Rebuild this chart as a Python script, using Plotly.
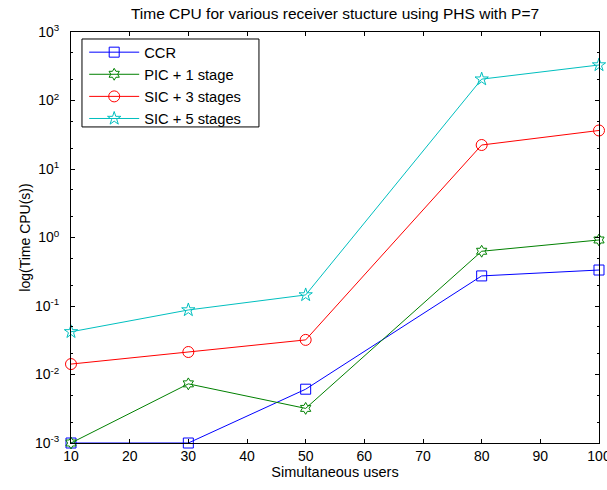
import plotly.graph_objects as go

users = [10, 30, 50, 80, 100]
ccr = [0.001, 0.001, 0.0061, 0.275, 0.335]
pic1 = [0.001, 0.0073, 0.0032, 0.63, 0.92]
sic3 = [0.0142, 0.0213, 0.032, 22.4, 36.5]
sic5 = [0.042, 0.0875, 0.145, 205, 330]

x_ticks = [10, 20, 30, 40, 50, 60, 70, 80, 90, 100]
y_ticks = [1e-3, 1e-2, 1e-1, 1e0, 1e1, 1e2, 1e3]
y_ticktext = ["10<sup>-3</sup>", "10<sup>-2</sup>", "10<sup>-1</sup>", "10<sup>0</sup>",
              "10<sup>1</sup>", "10<sup>2</sup>", "10<sup>3</sup>"]

series = [
    ("CCR", ccr, "#0000FF", "square-open", 10),
    ("PIC + 1 stage", pic1, "#008000", "hexagram-open", 9),
    ("SIC + 3 stages", sic3, "#FF0000", "circle-open", 11),
    ("SIC + 5 stages", sic5, "#00BFBF", "star-open", 10),
]

fig = go.Figure()
for name, vals, col, sym, sz in series:
    fig.add_trace(go.Scatter(
        x=users, y=vals, name=name, mode="lines+markers",
        line=dict(color=col, width=1),
        marker=dict(symbol=sym, size=sz, color=col, line=dict(color=col, width=1)),
        cliponaxis=False,
    ))

# legend frame
fig.add_shape(type="rect", xref="paper", yref="paper",
              x0=0.0208, x1=0.356, y0=0.769, y1=0.983,
              line=dict(color="black", width=1), fillcolor="white", layer="above")

font = dict(family="Liberation Sans, Arial, sans-serif", color="black")
fig.update_layout(
    width=607, height=490,
    margin=dict(l=71, r=8, t=32, b=47, autoexpand=False),
    paper_bgcolor="white", plot_bgcolor="white",
    font=dict(size=13, **font),
    title=dict(text="Time CPU for various receiver stucture using PHS with P=7",
               x=0.5, xref="paper", y=0.973, yref="container", yanchor="middle",
               font=dict(size=15.5, **font)),
    showlegend=True,
    legend=dict(x=0.025, y=0.99, xanchor="left", yanchor="top",
                borderwidth=0, bgcolor="rgba(0,0,0,0)",
                font=dict(size=14.7, **font), tracegroupgap=0, itemwidth=50),
    xaxis=dict(range=[10, 100.001], tickvals=x_ticks, automargin=False,
               ticks="inside", ticklen=4, tickcolor="black", showline=True,
               linecolor="black", linewidth=1, mirror="allticks", showgrid=False,
               zeroline=False, tickfont=dict(size=14), ticklabeloverflow="allow",
               title=dict(text="Simultaneous users", font=dict(size=14.5), standoff=4)),
    yaxis=dict(type="log", range=[-3, 3], tickvals=y_ticks, ticktext=y_ticktext,
               automargin=False, ticklabelstandoff=8,
               ticks="inside", ticklen=4, tickcolor="black", showline=True,
               linecolor="black", linewidth=1, mirror="allticks", showgrid=False,
               zeroline=False, tickfont=dict(size=14),
               minor=dict(ticks="inside", ticklen=2, tickcolor="black", showgrid=False),
               title=dict(text="log(Time CPU(s))", font=dict(size=14), standoff=1)),
)

fig.write_html("out.html", config={"displayModeBar": False},
               post_script="document.body.style.margin='0';")
